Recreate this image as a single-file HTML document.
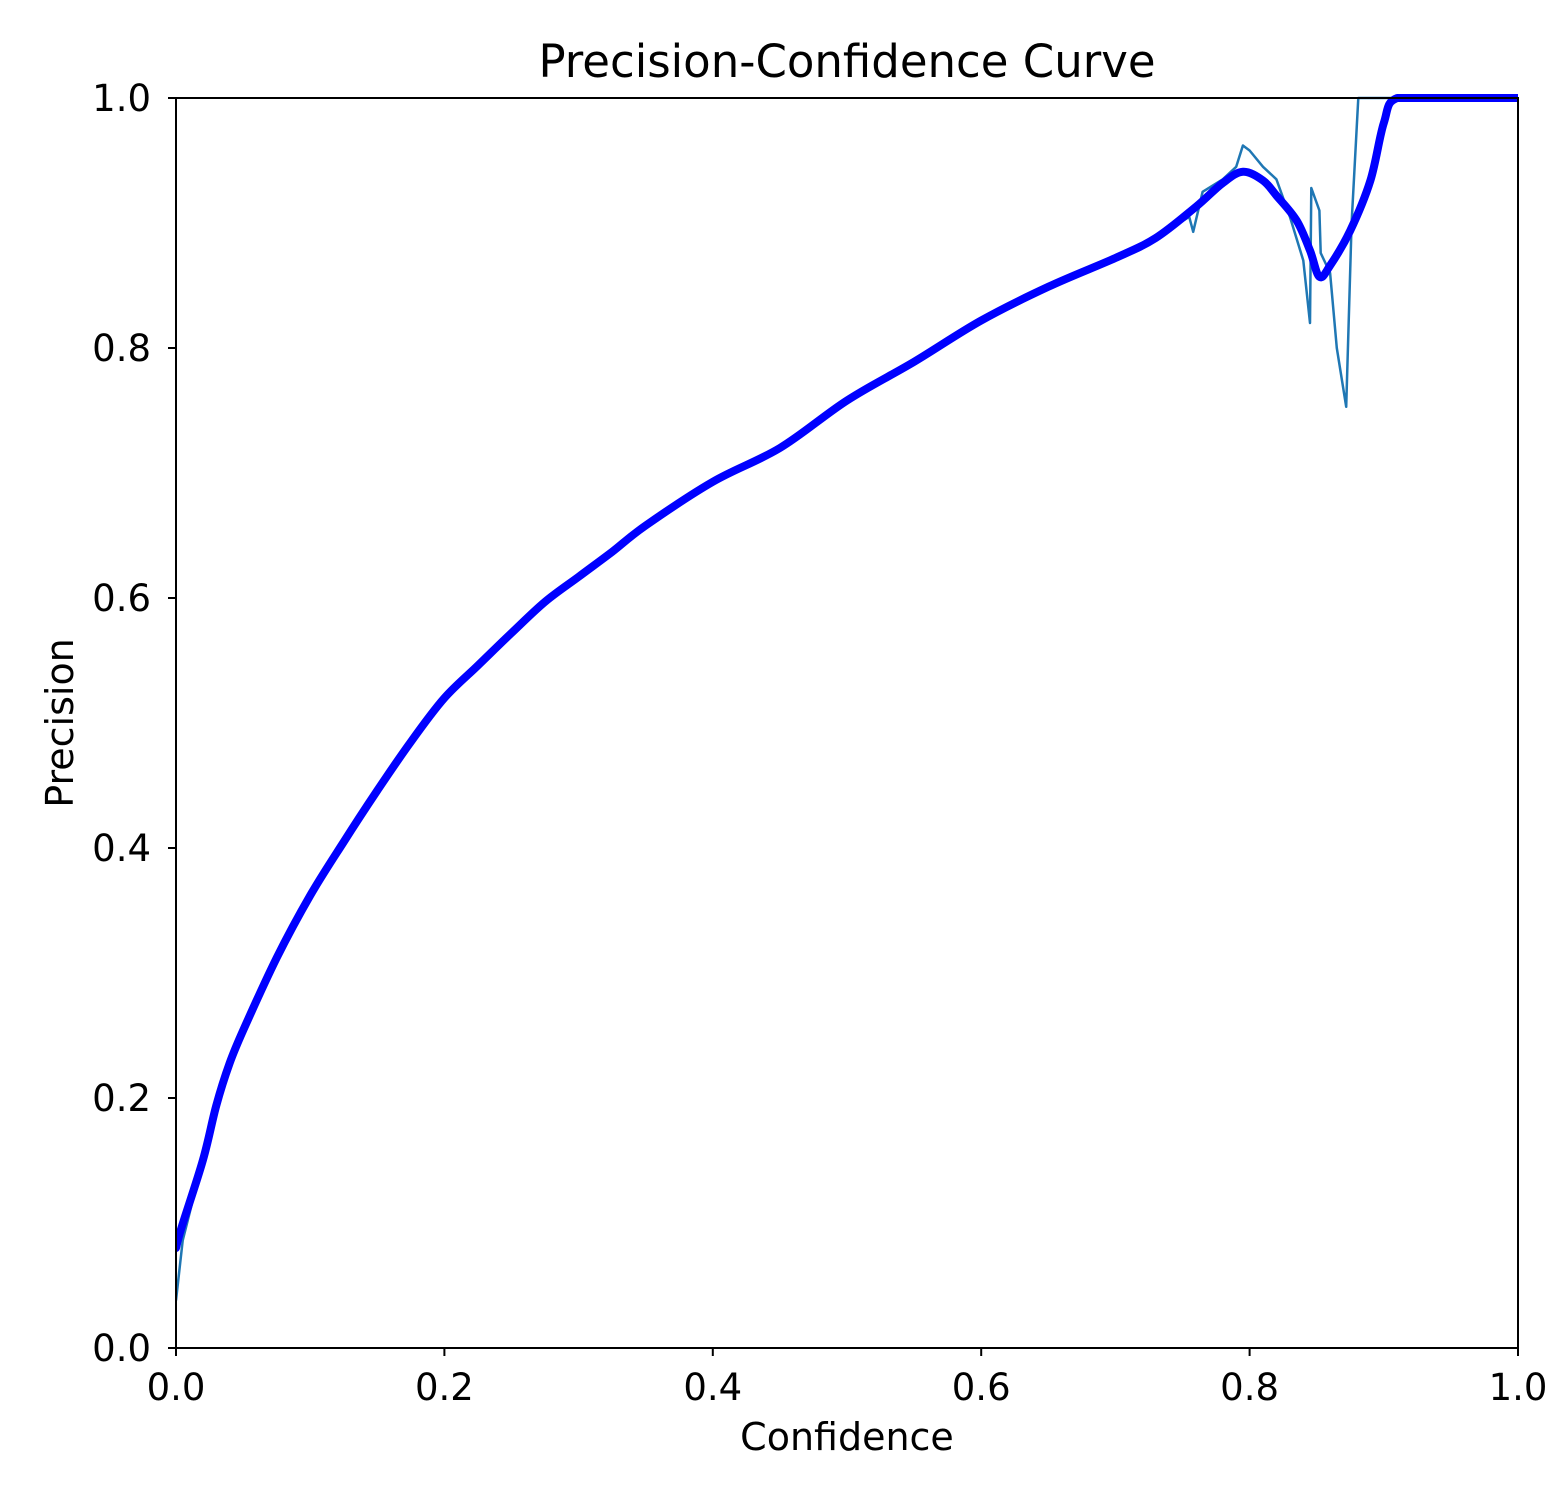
<!DOCTYPE html>
<html><head><meta charset="utf-8"><style>
body{margin:0;background:#fff;}
svg text{font-family:"DejaVu Sans","Liberation Sans",sans-serif;fill:#000;}
</style></head><body>
<svg id="chart" width="1560" height="1500" viewBox="0 0 1560 1500" xmlns="http://www.w3.org/2000/svg">
<rect width="1560" height="1500" fill="#fff"/>
<g id="plot"></g>
<text x="847" y="77" font-size="45" text-anchor="middle">Precision-Confidence Curve</text>
<text x="847" y="1450" font-size="38" text-anchor="middle">Confidence</text>
<text x="0" y="0" font-size="38" text-anchor="middle" transform="translate(73,723) rotate(-90)">Precision</text>
</svg>
<script>
const xTicks=[0,0.2,0.4,0.6,0.8,1.0];
const yTicks=[0,0.2,0.4,0.6,0.8,1.0];
const tickLabels=["0.0","0.2","0.4","0.6","0.8","1.0"];
const mainX=[0,0.004,0.02,0.03,0.04,0.05,0.075,0.1,0.125,0.15,0.175,0.2,0.225,0.25,0.275,0.3,0.325,0.35,0.4,0.45,0.5,0.55,0.6,0.65,0.7,0.73,0.76,0.78,0.795,0.81,0.82,0.835,0.845,0.852,0.86,0.875,0.89,0.9,0.91,0.95,1.0];
const mainY=[0.08,0.096,0.15,0.194,0.228,0.254,0.312,0.362,0.405,0.446,0.485,0.52,0.546,0.572,0.597,0.617,0.637,0.658,0.693,0.72,0.758,0.789,0.822,0.849,0.872,0.888,0.913,0.932,0.941,0.934,0.922,0.902,0.878,0.857,0.866,0.894,0.934,0.98,1.0,1.0,1.0];
const rawX=[0,0.005,0.02,0.03,0.04,0.05,0.075,0.1,0.125,0.15,0.175,0.2,0.225,0.25,0.275,0.3,0.325,0.35,0.4,0.45,0.5,0.55,0.6,0.65,0.7,0.73,0.755,0.758,0.765,0.78,0.79,0.795,0.8,0.81,0.82,0.83,0.84,0.845,0.846,0.852,0.853,0.86,0.865,0.872,0.876,0.881,1.0];
const rawY=[0.038,0.086,0.15,0.194,0.228,0.254,0.312,0.362,0.405,0.446,0.485,0.52,0.546,0.572,0.597,0.617,0.637,0.658,0.693,0.72,0.758,0.789,0.822,0.849,0.872,0.888,0.905,0.893,0.925,0.935,0.945,0.962,0.958,0.945,0.935,0.905,0.87,0.82,0.928,0.91,0.876,0.86,0.8,0.753,0.9,1.0,1.0];
const X0=176,X1=1518,Y0=1348,Y1=98;
const sx=v=>X0+(X1-X0)*v, sy=v=>Y0-(Y0-Y1)*v;
const NS="http://www.w3.org/2000/svg";
const g=document.getElementById('plot');
function mk(t,a){const e=document.createElementNS(NS,t);for(const k in a)e.setAttribute(k,a[k]);g.appendChild(e);return e;}
function path(xs,ys){return xs.map((x,i)=>(i?'L':'M')+sx(x).toFixed(1)+' '+sy(ys[i]).toFixed(1)).join(' ');}
function smooth(xs,ys){
  const p=xs.map((x,i)=>[sx(x),sy(ys[i])]);
  let d='M'+p[0][0].toFixed(1)+' '+p[0][1].toFixed(1);
  for(let i=0;i<p.length-1;i++){
    const a=p[Math.max(0,i-1)],b=p[i],c=p[i+1],e=p[Math.min(p.length-1,i+2)];
    let c1=[b[0]+(c[0]-a[0])/6,b[1]+(c[1]-a[1])/6],c2=[c[0]-(e[0]-b[0])/6,c[1]-(e[1]-b[1])/6];
    c1[1]=Math.max(c1[1],Y1);c2[1]=Math.max(c2[1],Y1);
    d+=' C'+c1[0].toFixed(1)+' '+c1[1].toFixed(1)+' '+c2[0].toFixed(1)+' '+c2[1].toFixed(1)+' '+c[0].toFixed(1)+' '+c[1].toFixed(1);
  }
  return d;
}
const defs=mk('clipPath',{id:'clip'});const cr=document.createElementNS(NS,'rect');
cr.setAttribute('x',X0);cr.setAttribute('y',Y1-4);cr.setAttribute('width',X1-X0);cr.setAttribute('height',Y0-Y1+4);defs.appendChild(cr);
const raw=mk('path',{d:path(rawX,rawY),fill:'none',stroke:'#1f77b4','stroke-width':2.5,'stroke-linejoin':'round','clip-path':'url(#clip)'});


const main=mk('path',{d:smooth(mainX,mainY),fill:'none',stroke:'#0000ff','stroke-width':8,'stroke-linejoin':'round','stroke-linecap':'round','clip-path':'url(#clip)'});


const fr=mk('rect',{x:X0,y:Y1,width:X1-X0,height:Y0-Y1,fill:'none',stroke:'#000','stroke-width':2});


xTicks.forEach((v,i)=>{
  const l=mk('line',{x1:sx(v),x2:sx(v),y1:Y0,y2:Y0+8,stroke:'#000','stroke-width':2});
  
  
  const t=mk('text',{x:sx(v),y:Y0+52,'font-size':37,'text-anchor':'middle'});t.textContent=tickLabels[i];
  
  
});
yTicks.forEach((v,i)=>{
  const l=mk('line',{x1:X0-8,x2:X0,y1:sy(v),y2:sy(v),stroke:'#000','stroke-width':2});
  
  
  const t=mk('text',{x:X0-25,y:sy(v)+13,'font-size':37,'text-anchor':'end'});t.textContent=tickLabels[i];
  
  
});
</script>
</body></html>
